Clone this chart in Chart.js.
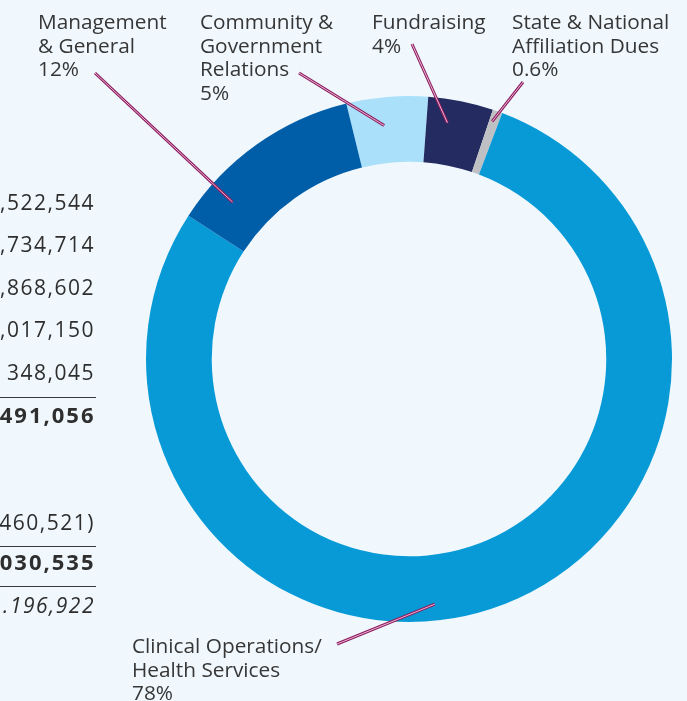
<!DOCTYPE html>
<html>
<head>
<meta charset="utf-8">
<script src="https://cdn.jsdelivr.net/npm/chart.js@4/dist/chart.umd.min.js"></script>
<style>
  html, body { margin: 0; padding: 0; background: #f0f8fd; }
  canvas { display: block; }
</style>
</head>
<body>
<canvas id="c" width="687" height="701"></canvas>
<script>
// ---- data ----
const categories = [
  'Community & Government Relations',
  'Fundraising',
  'State & National Affiliation Dues',
  'Clinical Operations/ Health Services',
  'Management & General'
];
const sharePercent = [5, 4, 0.6, 78.4, 12];
const shareLabels = ['5%', '4%', '0.6%', '78%', '12%'];
const labelLines = [
  ['Community &', 'Government', 'Relations'],
  ['Fundraising'],
  ['State & National', 'Affiliation Dues'],
  ['Clinical Operations/', 'Health Services'],
  ['Management', '& General']
];
const sliceColors = ['#aae0f9', '#232b61', '#bfc0c4', '#079ad6', '#005ea8'];

// partially visible statement figures on the left (cut by the page edge)
const tableTexts = [',522,544', ',734,714', ',868,602', ',017,150', '348,045', '491,056', '460,521)', '030,535', '.196,922'];
const tableStyles = ['normal', 'normal', 'normal', 'normal', 'normal', 'bold', 'normal', 'bold', 'italic'];

// ---- layout (annotation positions, not data) ----
const tableBaselines = [210, 252, 295, 337, 380, 423, 530, 570, 613];
const tableRules = [397, 546, 586];
const labelAnchors = [
  {x: 200, y: 29, lx: 299, ly: 73, t: 0.43, rf: 0.57},
  {x: 372, y: 29, lx: 412, ly: 44, t: 0.35, rf: 0.64},
  {x: 512, y: 29, lx: 523, ly: 82, t: 0.32, rf: 0.83},
  {x: 132, y: 653, lx: 337, ly: 644, t: 0.543, rf: 0.75},
  {x: 38, y: 29, lx: 95, ly: 73, t: 0.20, rf: 0.59}
];
const LINE_H = 23.6;
const FONT = '"Open Sans", "Noto Sans", sans-serif';

const annotate = {
  id: 'annotate',
  afterDraw(chart) {
    const ctx = chart.ctx;
    ctx.save();
    // left table
    ctx.fillStyle = '#2e2e2e';
    ctx.textAlign = 'right';
    ctx.textBaseline = 'alphabetic';
    tableTexts.forEach((t, i) => {
      const st = tableStyles[i];
      if (st === 'bold') {
        ctx.font = '700 22px ' + FONT;
        ctx.letterSpacing = '2px';
        ctx.fillText(t, 95.5, tableBaselines[i]);
      } else {
        ctx.font = (st === 'italic' ? 'italic 400 ' : '400 ') + '21px ' + FONT;
        ctx.letterSpacing = '1.5px';
        ctx.fillText(t, 95, tableBaselines[i]);
      }
    });
    ctx.letterSpacing = '0px';
    ctx.strokeStyle = '#3a3a3a';
    ctx.lineWidth = 1;
    tableRules.forEach(y => {
      ctx.beginPath();
      ctx.moveTo(0, y + 0.5);
      ctx.lineTo(96, y + 0.5);
      ctx.stroke();
    });

    // labels
    ctx.textAlign = 'left';
    ctx.fillStyle = '#363636';
    ctx.font = '400 20.8px ' + FONT;
    const meta = chart.getDatasetMeta(0);
    labelAnchors.forEach((a, i) => {
      const lines = labelLines[i].concat([shareLabels[i]]);
      lines.forEach((ln, k) => ctx.fillText(ln, a.x, a.y + k * LINE_H));
      const arc = meta.data[i];
      const p = arc.getProps(['x', 'y', 'startAngle', 'endAngle', 'innerRadius', 'outerRadius'], true);
      const ang = p.startAngle + a.t * (p.endAngle - p.startAngle);
      const r = p.innerRadius + a.rf * (p.outerRadius - p.innerRadius);
      const ex = p.x + Math.cos(ang) * r;
      const ey = p.y + Math.sin(ang) * r;
      ctx.lineCap = 'butt';
      ctx.beginPath();
      ctx.moveTo(a.lx, a.ly);
      ctx.lineTo(ex, ey);
      ctx.strokeStyle = '#8c1d5e';
      ctx.lineWidth = 3;
      ctx.stroke();
      ctx.strokeStyle = '#eeb4d6';
      ctx.lineWidth = 1;
      ctx.stroke();
    });
    ctx.restore();
  }
};

new Chart(document.getElementById('c'), {
  type: 'doughnut',
  data: {
    labels: categories,
    datasets: [{
      data: sharePercent,
      backgroundColor: sliceColors,
      borderWidth: 0
    }]
  },
  options: {
    responsive: false,
    animation: false,
    cutout: '75%',
    rotation: -13.8,
    layout: { padding: { left: 146, right: 15, top: 96, bottom: 79 } },
    plugins: { legend: { display: false }, tooltip: { enabled: false } },
    events: []
  },
  plugins: [annotate]
});
</script>
</body>
</html>
